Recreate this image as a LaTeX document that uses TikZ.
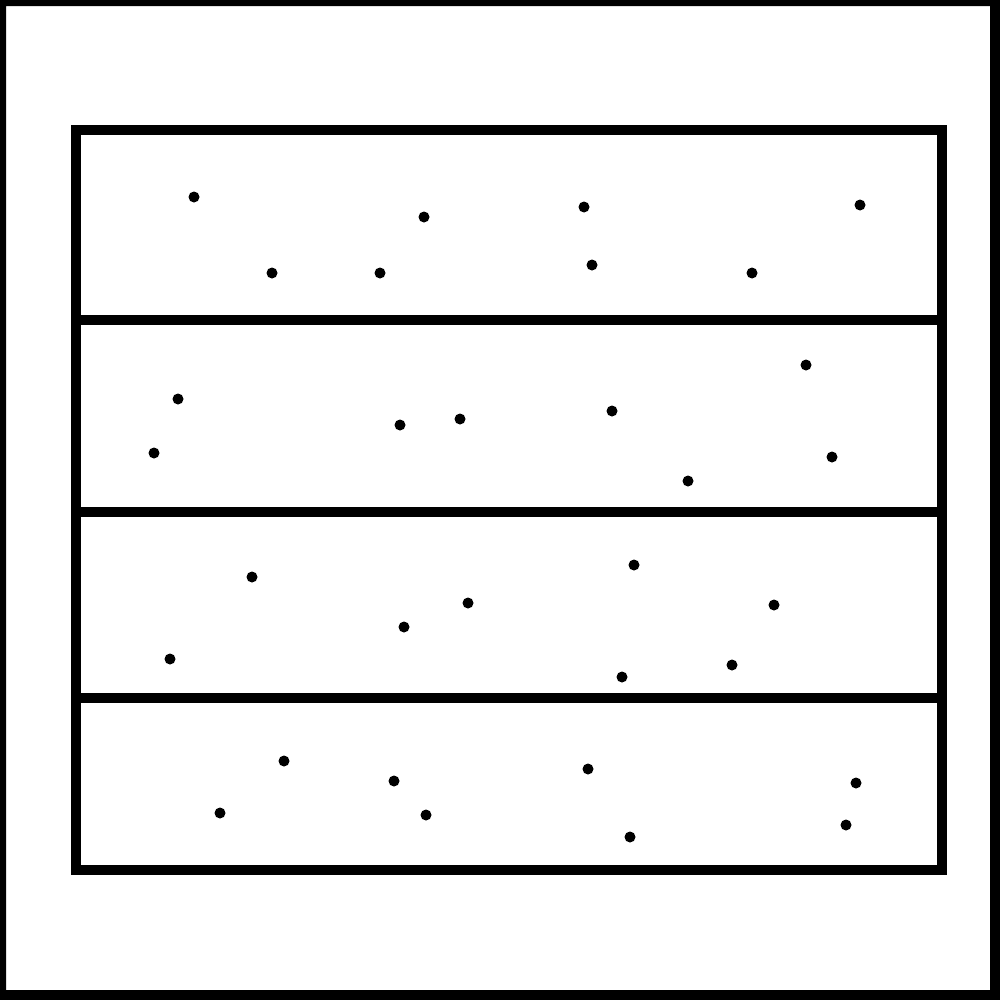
\documentclass[tikz,border=0pt]{standalone}
\usetikzlibrary{positioning}

\tikzset{
  pt/.style={fill=black},
  wall/.style={line width=2.85pt}
}

\begin{document}
\begin{tikzpicture}[x=0.01cm,y=-0.01cm]
\useasboundingbox (0,0) rectangle (1000,1000);
\fill[even odd rule] (0,0) rectangle (1000,1000) (6,6) rectangle (990,990);
\draw[wall] (76,130) rectangle (942,870);
\coordinate (l1) at (76,320); \coordinate (r1) at (942,320);
\coordinate (l2) at (76,512); \coordinate (r2) at (942,512);
\coordinate (l3) at (76,698); \coordinate (r3) at (942,698);
\draw[wall] (l1) -- (r1);
\draw[wall] (l2) -- (r2);
\draw[wall] (l3) -- (r3);
\foreach \x/\y in {194/197,424/217,584/207,860/205,272/273,380/273,592/265,752/273,
  178/399,806/365,400/425,460/419,612/411,154/453,832/457,688/481,
  252/577,634/565,468/603,774/605,404/627,170/659,732/665,622/677,
  284/761,394/781,588/769,856/783,220/813,426/815,846/825,630/837}
  \fill[pt] (\x,\y) circle (5.5);
\end{tikzpicture}
\end{document}
